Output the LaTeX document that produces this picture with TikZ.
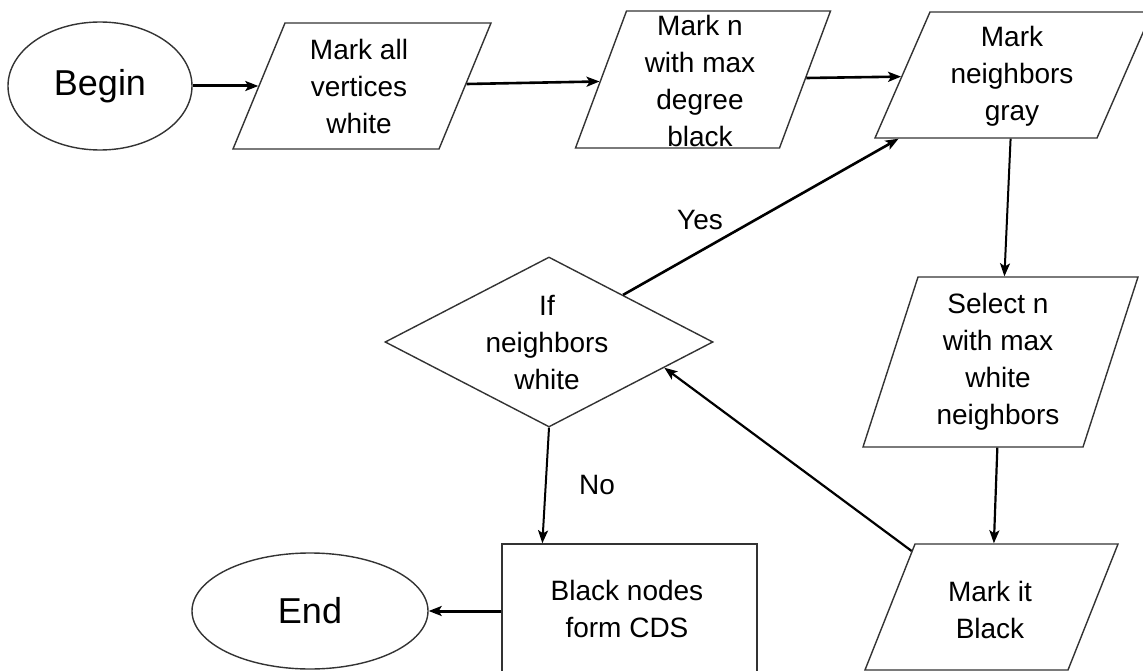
\documentclass[tikz,border=0pt]{standalone}
\usepackage{fontspec}
\setmainfont{Liberation Sans}
\usetikzlibrary{shapes.geometric,arrows.meta,calc}

\begin{document}
\begin{tikzpicture}[x=1pt,y=-1pt,
  outline/.style={draw=black!80, line width=1.4pt, inner sep=0pt, fill=white},
  % a parallelogram is a slanted rectangle: #1 = horizontal offset / height
  para/.style={outline, rectangle, xslant=#1},
  term/.style={outline, ellipse, font=\fontsize{36}{40}\selectfont},
  txt/.style={align=center, font=\fontsize{28}{37}\selectfont, inner sep=0pt},
  arr/.style={-{Stealth[length=13pt,width=10pt,inset=3pt]}, line width=2.2pt},
]
\useasboundingbox (0,0) rectangle (1143,671);

% terminals
\node[term, minimum width=184pt, minimum height=128pt] (begin) at (100,86) {Begin};
\node[term, minimum width=236pt, minimum height=116pt] (end) at (310,611) {End};

% process steps (parallelograms)
\node[para=0.4127, minimum width=206pt, minimum height=126pt] (p1) at (362,86) {};
\node[txt] (p1t) at (359,86) {Mark all\\vertices\\white};

\node[para=0.3723, minimum width=204pt, minimum height=137pt] (p2) at (703,79.5) {};
\node[txt] (p2t) at (700,81) {Mark n\\with max\\degree\\black};

\node[para=0.4365, minimum width=222pt, minimum height=126pt] (p3) at (1013.5,75) {};
\node[txt] (p3t) at (1012,76) {Mark\\neighbors\\gray};

\node[para=0.3235, minimum width=220pt, minimum height=170pt] (p4) at (1000.5,362) {};
\node[txt] (p4t) at (998,362) {Select n\\with max\\white\\neighbors};

\node[para=0.397, minimum width=203pt, minimum height=126pt] (p5) at (991.5,607) {};
\node[txt] (p5t) at (990,610) {Mark it\\Black};

% decision
\node[outline, diamond, minimum width=328pt, minimum height=170pt] (d) at (549,342) {};
\node[txt] (dt) at (547,343) {If\\neighbors\\white};

% result box
\node[outline, rectangle, minimum width=255pt, minimum height=156pt] (r) at (629.5,622) {};
\node[txt] (rt) at (627,609) {Black nodes\\form CDS};

% branch labels
\node[txt] (yes) at (700,220) {Yes};
\node[txt] (no) at (597,485) {No};

% connectors
\draw[arr, line width=3pt] (begin) -- (p1);
\draw[arr, line width=2.6pt] (p1) -- (p2);
\draw[arr, line width=2.6pt] (p2) -- (p3);
\draw[arr, line width=2pt] (p3) -- (p4);
\draw[arr, line width=2.2pt] (p4) -- (p5);
\draw[arr] ($(p5.north west)!0.06!(p5.south west)$) -- ($(d.east)!0.3!(d.south)$);
\draw[arr, line width=2.6pt] ($(d.north)!0.45!(d.east)$) -- ($(p3.south west)!0.11!(p3.south east)$);
\draw[arr, line width=2pt] (d.south) -- ($(r.north west)!0.16!(r.north east)$);
\draw[arr, line width=3pt] (end.east -| r.west) -- (end.east);
\end{tikzpicture}
\end{document}
